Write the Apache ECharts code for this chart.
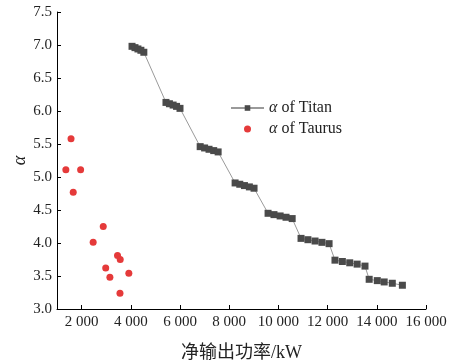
<!DOCTYPE html>
<html>
<head>
<meta charset="utf-8">
<script src="https://cdn.jsdelivr.net/npm/echarts@6/dist/echarts.min.js"></script>
<style>
  html, body { margin: 0; padding: 0; background: #fff; }
  #main { width: 452px; height: 362px; }
</style>
</head>
<body>
<div id="main"></div>
<script>
// Titan: 8 steps of 5 points each
const titanPower = [
  4050, 4170, 4290, 4410, 4530,
  5430, 5570, 5720, 5860, 6000,
  6820, 7000, 7180, 7370, 7550,
  8240, 8430, 8620, 8820, 9010,
  9580, 9820, 10070, 10310, 10560,
  10920, 11200, 11490, 11770, 12060,
  12300, 12600, 12900, 13200, 13520,
  13690, 14020, 14300, 14630, 15040
]
const titanAlpha = [
  6.98, 6.96, 6.94, 6.92, 6.89,
  6.13, 6.11, 6.09, 6.07, 6.04,
  5.46, 5.44, 5.42, 5.40, 5.38,
  4.91, 4.89, 4.87, 4.85, 4.83,
  4.45, 4.43, 4.41, 4.39, 4.37,
  4.07, 4.05, 4.03, 4.01, 3.99,
  3.74, 3.72, 3.70, 3.68, 3.65,
  3.45, 3.43, 3.41, 3.39, 3.36
]
const taurusPower = [1570, 1360, 1960, 1660, 2880, 2470, 3460, 3570, 2980, 3150, 3920, 3560]
const taurusAlpha = [5.58, 5.11, 5.11, 4.77, 4.25, 4.01, 3.81, 3.75, 3.62, 3.48, 3.54, 3.24]
const xTicks = [2000, 4000, 6000, 8000, 10000, 12000, 14000, 16000]

const serif = '"Liberation Serif", "Noto Sans CJK SC", serif'
const fmtThousands = (v) => String(v).replace(/\B(?=(\d{3})+(?!\d))/g, ' ')

const chart = echarts.init(document.getElementById('main'))
chart.setOption({
  animation: false,
  grid: { left: 57, right: 26, top: 12, bottom: 53, outerBoundsMode: 'none' },
  legend: {
    orient: 'vertical',
    left: 230,
    top: 100,
    padding: 0,
    itemWidth: 33,
    itemHeight: 7,
    itemGap: 5,
    formatter: (name) => '{a|α}{b|' + name.slice(1) + '}',
    textStyle: {
      fontFamily: serif,
      fontSize: 16,
      color: '#222',
      rich: {
        a: { fontFamily: serif, fontSize: 16, fontStyle: 'italic', color: '#222' },
        b: { fontFamily: serif, fontSize: 16, color: '#222' }
      }
    }
  },
  xAxis: {
    type: 'value',
    min: 1000,
    max: 16000,
    name: '净输出功率/kW',
    nameLocation: 'middle',
    nameGap: 35,
    nameMoveOverlap: false,
    nameTextStyle: { fontFamily: serif, fontSize: 18, color: '#222' },
    axisLine: { show: true, lineStyle: { color: '#000', width: 1 } },
    axisTick: { show: true, inside: true, length: 4, customValues: xTicks, lineStyle: { color: '#000' } },
    axisLabel: {
      customValues: xTicks,
      formatter: fmtThousands,
      fontFamily: serif,
      fontSize: 15,
      color: '#222',
      margin: 6
    },
    splitLine: { show: false }
  },
  yAxis: {
    type: 'value',
    min: 3,
    max: 7.5,
    interval: 0.5,
    name: 'α',
    nameLocation: 'middle',
    nameGap: 28,
    nameMoveOverlap: false,
    nameRotate: 90,
    nameTextStyle: { fontFamily: serif, fontSize: 18, fontStyle: 'italic', color: '#222' },
    axisLine: { show: true, lineStyle: { color: '#000', width: 1 } },
    axisTick: { show: true, inside: true, length: 4, lineStyle: { color: '#000' } },
    axisLabel: {
      formatter: (v) => v.toFixed(1),
      fontFamily: serif,
      fontSize: 15,
      color: '#222',
      margin: 5
    },
    splitLine: { show: false }
  },
  series: [
    {
      name: 'α of Titan',
      type: 'line',
      symbol: 'rect',
      symbolSize: 7,
      showAllSymbol: true,
      data: titanPower.map((p, i) => [p, titanAlpha[i]]),
      itemStyle: { color: '#4a4a4a' },
      lineStyle: { color: '#9a9a9a', width: 1 }
    },
    {
      name: 'α of Taurus',
      type: 'scatter',
      symbol: 'circle',
      symbolSize: 7,
      data: taurusPower.map((p, i) => [p, taurusAlpha[i]]),
      itemStyle: { color: '#e53a3a', opacity: 1 }
    }
  ]
})
</script>
</body>
</html>
